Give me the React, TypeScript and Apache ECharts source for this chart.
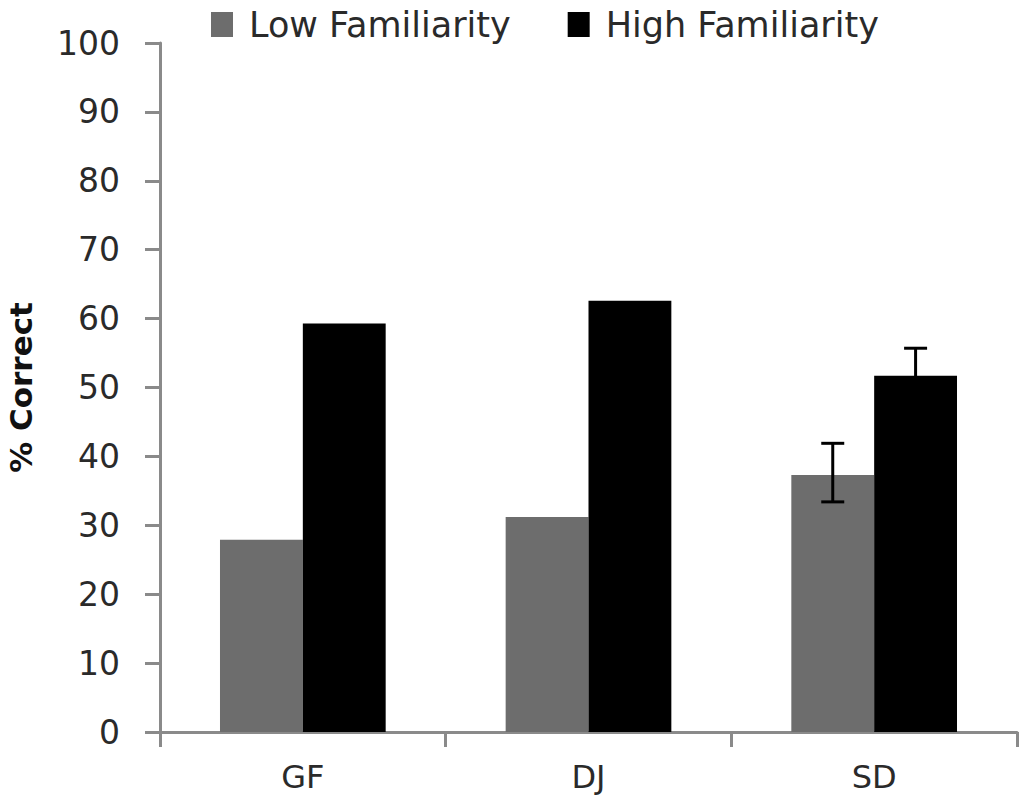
import React, { useEffect, useRef } from "react";
import * as echarts from "echarts";

const categories = ["GF", "DJ", "SD"];
const lowFamiliarity = [27.9, 31.2, 37.3];
const highFamiliarity = [59.3, 62.6, 51.7];
// [categoryIndex, lower, upper]
const lowErrors = [[2, 33.4, 41.9]];
const highErrors = [[2, 47.7, 55.7]];
const yTicks = { min: 0, max: 100, interval: 10 };

const BAR_FRAC = 0.29;

function makeErrorSeries(name: string, data: number[][], side: number) {
  return {
    type: "custom",
    name,
    z: 5,
    silent: true,
    data,
    encode: { x: 0, y: [1, 2] },
    renderItem: (params: any, api: any) => {
      const idx = api.value(0);
      const lo = api.coord([idx, api.value(1)]);
      const hi = api.coord([idx, api.value(2)]);
      const catW = api.size([1, 0])[0];
      const x = lo[0] + side * (catW * BAR_FRAC) / 2;
      const cap = 11.5;
      const style = { stroke: "#000000", lineWidth: 3 };
      return {
        type: "group",
        children: [
          { type: "line", shape: { x1: x, y1: lo[1], x2: x, y2: hi[1] }, style },
          { type: "line", shape: { x1: x - cap, y1: hi[1], x2: x + cap, y2: hi[1] }, style },
          { type: "line", shape: { x1: x - cap, y1: lo[1], x2: x + cap, y2: lo[1] }, style },
        ],
      };
    },
  };
}

export default function App() {
  const ref = useRef<HTMLDivElement>(null);
  useEffect(() => {
    document.body.style.margin = "0";
    const chart = echarts.init(ref.current!, null, { renderer: "svg" });
    const font = "DejaVu Sans";
    chart.setOption({
      animation: false,
      backgroundColor: "#ffffff",
      legend: {
        left: 206,
        top: 2,
        itemWidth: 22,
        itemHeight: 25,
        itemGap: 57,
        icon: "rect",
        textStyle: {
          fontFamily: font,
          fontSize: 35,
          color: "#2a2a2a",
          padding: [0, 0, 0, 11],
        },
        data: ["Low Familiarity", "High Familiarity"],
      },
      grid: {
        left: 160,
        right: 9,
        top: 43,
        bottom: 64,
        containLabel: false,
        outerBoundsMode: "none",
      },
      xAxis: {
        type: "category",
        data: categories,
        axisLine: { lineStyle: { color: "#8a8a8a", width: 3 } },
        axisTick: { show: true, length: 15, lineStyle: { color: "#8a8a8a", width: 3 } },
        axisLabel: { fontFamily: font, fontSize: 32, color: "#2a2a2a", margin: 29 },
      },
      yAxis: {
        type: "value",
        min: yTicks.min,
        max: yTicks.max,
        interval: yTicks.interval,
        name: "% Correct",
        nameLocation: "middle",
        nameGap: 124,
        nameRotate: 90,
        nameTextStyle: { fontFamily: font, fontSize: 31, fontWeight: "bold", color: "#111" },
        axisLine: { show: true, lineStyle: { color: "#8a8a8a", width: 3 } },
        axisTick: { show: true, length: 15, lineStyle: { color: "#8a8a8a", width: 3 } },
        axisLabel: { fontFamily: font, fontSize: 33, color: "#2a2a2a", margin: 40 },
        splitLine: { show: false },
      },
      series: [
        {
          type: "bar",
          name: "Low Familiarity",
          data: lowFamiliarity,
          barWidth: "29%",
          barGap: "0%",
          itemStyle: { color: "#6d6d6d" },
        },
        {
          type: "bar",
          name: "High Familiarity",
          data: highFamiliarity,
          barWidth: "29%",
          barGap: "0%",
          itemStyle: { color: "#000000" },
        },
        makeErrorSeries("lowErr", lowErrors, -1),
        makeErrorSeries("highErr", highErrors, 1),
      ],
    });
    return () => chart.dispose();
  }, []);
  return <div ref={ref} style={{ width: 1026, height: 796 }} />;
}
